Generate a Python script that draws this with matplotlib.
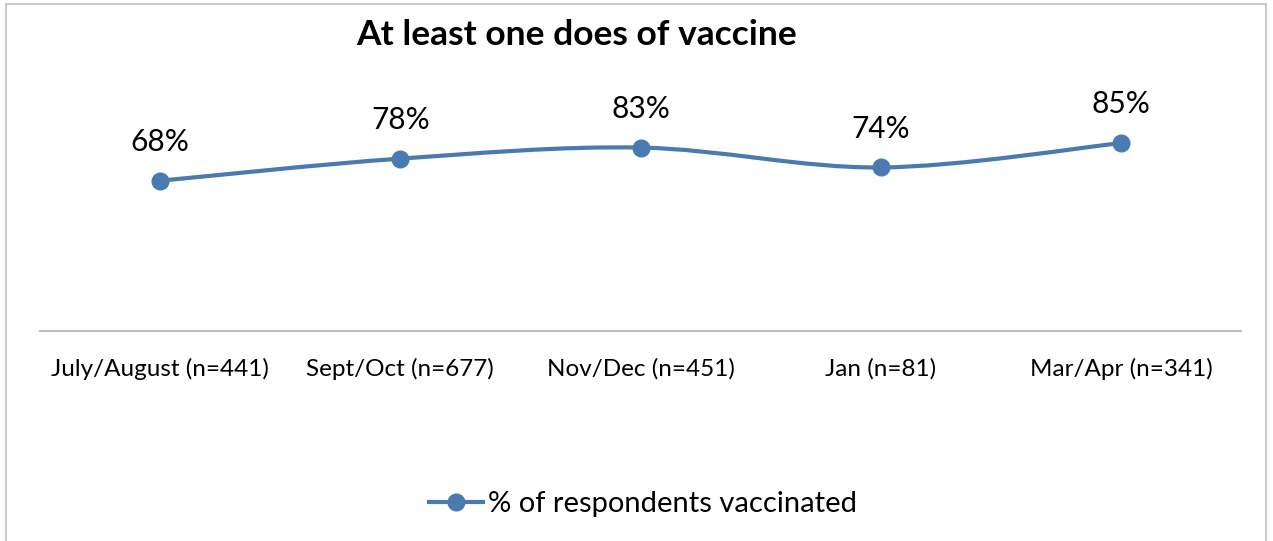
import matplotlib.pyplot as plt
import numpy as np
from matplotlib.lines import Line2D
from matplotlib.patches import PathPatch, Rectangle
from matplotlib.path import Path

categories = [
    "July/August (n=441)",
    "Sept/Oct (n=677)",
    "Nov/Dec (n=451)",
    "Jan (n=81)",
    "Mar/Apr (n=341)",
]
vaccinated = [68, 78, 83, 74, 85]
series_name = "% of respondents vaccinated"
title = "At least one does of vaccine"

blue = "#4a7ab0"
grey = "#bfbfbf"

plt.rcParams["font.family"] = ["Lato", "DejaVu Sans"]

W, H = 1273, 541
fig = plt.figure(figsize=(W / 100, H / 100), dpi=100)
ax = fig.add_axes([40 / W, 1 - 331 / H, (1241 - 40) / W, (331 - 110) / H])

x = np.arange(len(vaccinated))
y = np.array(vaccinated, dtype=float)

# smoothed line like Excel (bezier segments through the points)
px = np.concatenate(([x[0]], x, [x[-1]]))
py = np.concatenate(([y[0]], y, [y[-1]]))
verts = [(x[0], y[0])]
codes = [Path.MOVETO]
for i in range(1, len(px) - 2):
    c1 = (px[i] + (px[i + 1] - px[i - 1]) / 6, py[i] + (py[i + 1] - py[i - 1]) / 6)
    c2 = (px[i + 1] - (px[i + 2] - px[i]) / 6, py[i + 1] - (py[i + 2] - py[i]) / 6)
    verts += [c1, c2, (px[i + 1], py[i + 1])]
    codes += [Path.CURVE4] * 3
ax.add_patch(PathPatch(Path(verts, codes), fill=False, edgecolor=blue, lw=3, capstyle="round"))
ax.plot(x, y, ls="none", marker="o", ms=12, color=blue, mec=blue)

for xi, yi in zip(x, y):
    ax.annotate(f"{yi:.0f}%", (xi, yi), xytext=(0, 28), textcoords="offset points",
                ha="center", va="center", fontsize=21.5)

ax.set_xlim(-0.5, len(x) - 0.5)
ax.set_ylim(0, 100)
ax.set_xticks(x)
ax.set_xticklabels(categories, fontsize=17.5)
ax.tick_params(axis="x", length=0, pad=19.5)
ax.set_yticks([])
for s in ["top", "left", "right"]:
    ax.spines[s].set_visible(False)
ax.spines["bottom"].set_color(grey)
ax.spines["bottom"].set_linewidth(1.5)

fig.text(577 / W, 1 - 35 / H, title, ha="center", va="center", fontsize=25.5, fontweight="bold")

handle = Line2D([], [], color=blue, lw=3, marker="o", ms=12)
fig.legend([handle], [series_name], loc="center", bbox_to_anchor=(643 / W, 1 - 504 / H),
           frameon=False, fontsize=21, handlelength=1.85, handletextpad=0.15)

fig.add_artist(Rectangle((6 / W, -0.05), 1260 / W, 1.05 - 4 / H, transform=fig.transFigure,
                         fill=False, edgecolor=grey, lw=1.2))

fig.savefig("out.png", dpi=100)
